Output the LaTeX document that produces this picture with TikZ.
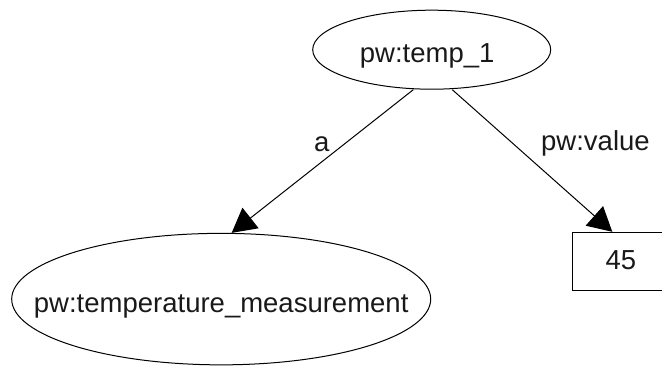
\documentclass[tikz,border=0pt]{standalone}
\usepackage{fontspec}
\setmainfont{Liberation Sans}
\usetikzlibrary{arrows.meta,shapes.geometric,calc}

% text in a zero-width box, so that the shape keeps the size it is given
\newcommand{\fixedlabel}[1]{\makebox[0pt][c]{#1}}

\tikzset{
  every node/.style={font=\fontsize{27.5}{33}\selectfont, text=black!90},
  resource/.style={ellipse, draw, line width=1pt, inner sep=0pt,
                   text height=26pt, text depth=0pt},
  literal/.style={rectangle, draw, line width=1pt, inner sep=0pt,
                  text height=15.3pt, text depth=0pt},
  triple/.style={draw, line width=1pt, -{Triangle[length=24pt,width=26pt]}},
  predicate/.style={inner sep=0pt, text depth=0pt}
}

\begin{document}
\begin{tikzpicture}[x=1pt,y=1pt]
  \clip (0,0) rectangle (662,367);

  % subject
  \node[resource, minimum width=238pt, minimum height=79pt] (temp)
        at (431.7,317.3) {\fixedlabel{pw:temp\_1\hspace{9pt}}};

  % class of the subject
  \node[resource, minimum width=419pt, minimum height=131.5pt] (meas)
        at (221.2,67.9) {\fixedlabel{pw:temperature\_measurement}};

  % literal value
  \node[literal, minimum width=96.2pt, minimum height=58.7pt] (val)
        at (620.8,105.35) {\fixedlabel{45}};

  % rdf:type edge
  \draw[triple] ($(temp.south)+(-18.4,0)$) -- ($(meas.north)+(10.5,0)$)
        node[predicate, pos=0.4286, anchor=base east, xshift=-5.5pt] (lblA) {a};

  % value edge
  \draw[triple] ($(temp.south)+(20.6,0)$) -- ($(val.north)+(-8.5,0)$)
        node[predicate, pos=0.4286, anchor=base west, xshift=19.8pt] (lblV) {pw:value};
\end{tikzpicture}
\end{document}
